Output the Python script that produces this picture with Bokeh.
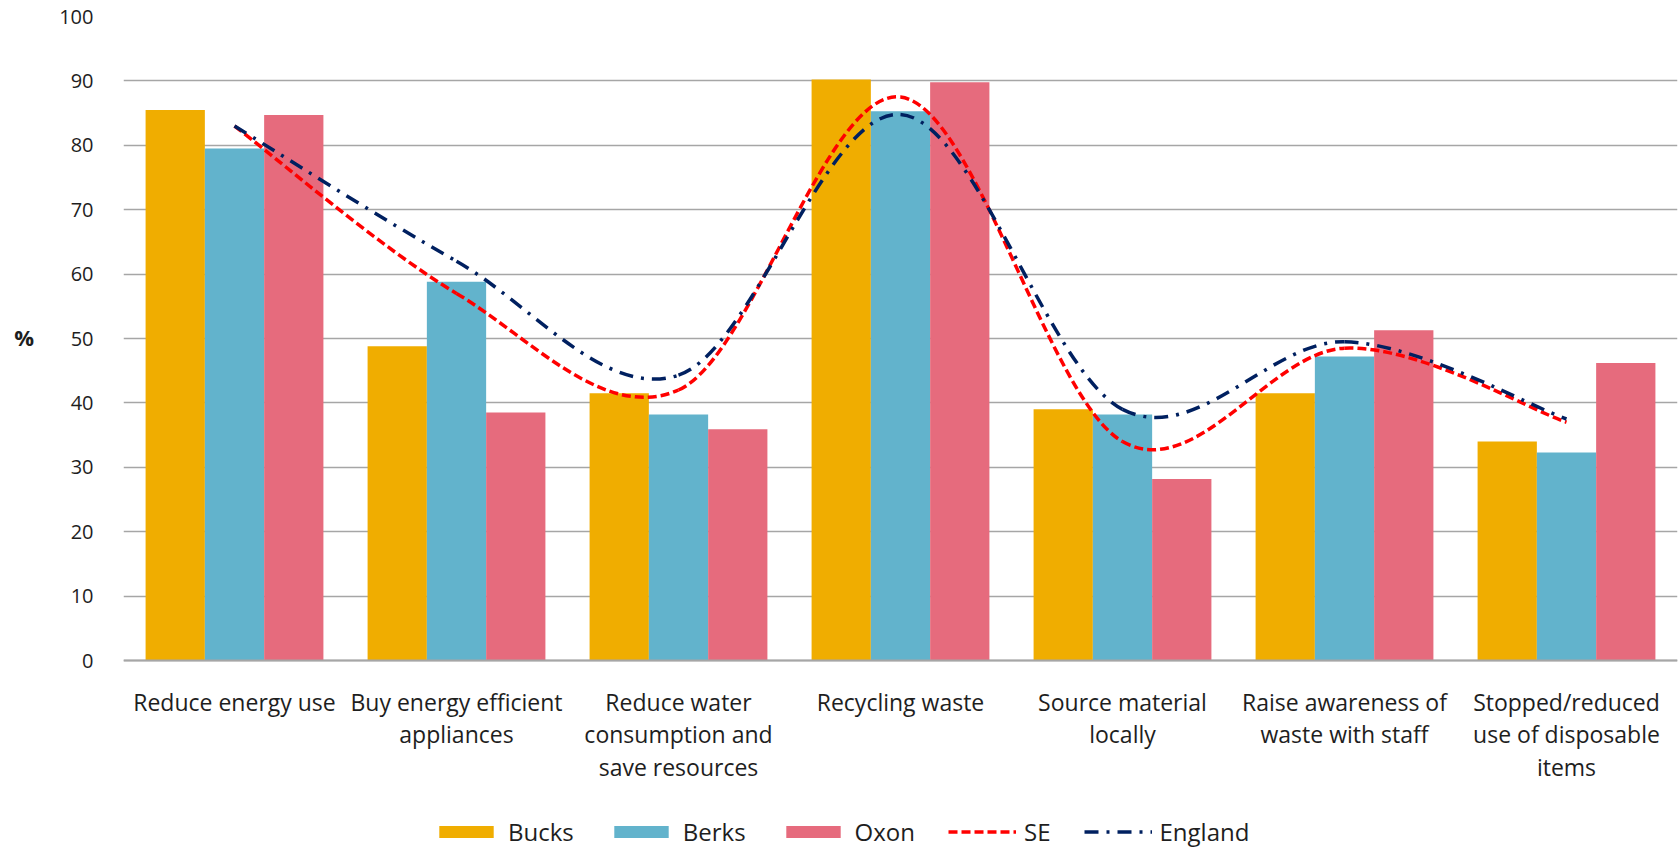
from bokeh.plotting import figure
from bokeh.models import (ColumnDataSource, FixedTicker, Legend, LegendItem, Range1d)
from bokeh.transform import dodge
from bokeh.embed import file_html
from bokeh.resources import INLINE

# ---------------- data ----------------
categories = [
    "Reduce energy use",
    "Buy energy efficient\nappliances",
    "Reduce water\nconsumption and\nsave resources",
    "Recycling waste",
    "Source material\nlocally",
    "Raise awareness of\nwaste with staff",
    "Stopped/reduced\nuse of disposable\nitems",
]
bucks = [85.5, 48.8, 41.5, 90.2, 39.0, 41.5, 34.0]
berks = [79.5, 58.8, 38.2, 85.3, 38.2, 47.2, 32.3]
oxon = [84.7, 38.5, 35.9, 89.8, 28.2, 51.3, 46.2]
se = [83.0, 57.0, 42.0, 87.5, 34.0, 48.5, 37.0]
england = [83.0, 62.0, 44.3, 84.8, 39.0, 49.5, 37.5]
y_ticks = [0, 10, 20, 30, 40, 50, 60, 70, 80, 90, 100]

# ---------------- styles / layout ----------------
FONT = "Open Sans"
C_BUCKS = "#F0AD00"
C_BERKS = "#62B3CC"
C_OXON = "#E66B7D"
C_SE = "#FF0000"
C_ENG = "#002060"
GRID = "#A6A6A6"
TEXT = "#1E1E1E"

W, H = 1679, 849
TOP, LEFT = 16, 123
AXIS_Y = 660          # pixel row of the value 0
n = len(categories)
xs = list(range(n))
bw = 0.267
px_per_unit = (AXIS_Y - TOP) / 100.0
y_min = -(H - AXIS_Y) / px_per_unit   # room under the axis for labels + legend

p = figure(width=W, height=H, output_backend="svg", toolbar_location=None,
           x_range=Range1d(-0.5, n - 0.5), y_range=Range1d(y_min, 100),
           min_border_left=LEFT, min_border_right=2, min_border_top=TOP,
           min_border_bottom=0)
p.outline_line_color = None
p.background_fill_color = "white"

src = ColumnDataSource(dict(x=xs, bucks=bucks, berks=berks, oxon=oxon))
r_bucks = p.vbar(x=dodge("x", -bw, range=p.x_range), top="bucks", width=bw, source=src,
                 fill_color=C_BUCKS, line_color=None)
r_berks = p.vbar(x=dodge("x", 0.0, range=p.x_range), top="berks", width=bw, source=src,
                 fill_color=C_BERKS, line_color=None)
r_oxon = p.vbar(x=dodge("x", bw, range=p.x_range), top="oxon", width=bw, source=src,
                fill_color=C_OXON, line_color=None)


def smooth_segments(ys):
    """Bezier segments (Catmull-Rom style control points) through the data points."""
    x0, y0, x1, y1, cx0, cy0, cx1, cy1 = [], [], [], [], [], [], [], []
    m = len(ys)
    for i in range(m - 1):
        pm = i - 1 if i > 0 else i
        pn = i + 2 if i + 2 < m else i + 1
        x0.append(xs[i]); y0.append(ys[i])
        x1.append(xs[i + 1]); y1.append(ys[i + 1])
        cx0.append(xs[i] + (xs[i + 1] - xs[pm]) / 6.0)
        cy0.append(ys[i] + (ys[i + 1] - ys[pm]) / 6.0)
        cx1.append(xs[i + 1] - (xs[pn] - xs[i]) / 6.0)
        cy1.append(ys[i + 1] - (ys[pn] - ys[i]) / 6.0)
    return dict(x0=x0, y0=y0, x1=x1, y1=y1, cx0=cx0, cy0=cy0, cx1=cx1, cy1=cy1)


SE_DASH = "9 4"
ENG_DASH = "14 8 3 8"
LW = 3.5
r_se = p.bezier(x0="x0", y0="y0", x1="x1", y1="y1", cx0="cx0", cy0="cy0", cx1="cx1", cy1="cy1",
                source=ColumnDataSource(smooth_segments(se)), line_color=C_SE, line_width=LW,
                line_dash=SE_DASH)
r_eng = p.bezier(x0="x0", y0="y0", x1="x1", y1="y1", cx0="cx0", cy0="cy0", cx1="cx1", cy1="cy1",
                 source=ColumnDataSource(smooth_segments(england)), line_color=C_ENG,
                 line_width=LW, line_dash=ENG_DASH)

# ---------------- axes / grid ----------------
p.xgrid.grid_line_color = None
p.ygrid.grid_line_color = GRID
p.ygrid.grid_line_width = 1.5
p.yaxis.ticker = FixedTicker(ticks=y_ticks)
p.yaxis.bounds = (0, 100)
p.yaxis.axis_line_color = None
p.yaxis.major_tick_line_color = None
p.yaxis.minor_tick_line_color = None
p.yaxis.major_label_text_font = FONT
p.yaxis.major_label_text_font_size = "20px"
p.yaxis.major_label_text_color = TEXT
p.yaxis.major_label_standoff = 24
# the "%" sits on the first line; blank lines below lift it to the middle of 0-100
p.yaxis.axis_label = "%\n \n \n \n \n \n "
p.yaxis.axis_label_text_font = FONT
p.yaxis.axis_label_text_font_size = "22px"
p.yaxis.axis_label_text_font_style = "bold"
p.yaxis.axis_label_text_color = TEXT
p.yaxis.axis_label_text_line_height = 1.07
p.yaxis.axis_label_standoff = 22
try:
    p.yaxis[0].axis_label_orientation = "horizontal"
except Exception:
    pass

p.xaxis.fixed_location = 0
p.xaxis.ticker = FixedTicker(ticks=xs)
p.xaxis.major_label_overrides = {i: c for i, c in enumerate(categories)}
p.xaxis.axis_line_color = GRID
p.xaxis.axis_line_width = 2
p.xaxis.major_tick_line_color = None
p.xaxis.minor_tick_line_color = None
p.xaxis.major_label_text_font = FONT
p.xaxis.major_label_text_font_size = "23px"
p.xaxis.major_label_text_color = TEXT
p.xaxis.major_label_standoff = 19
p.xaxis.major_label_text_line_height = 1.02

legend = Legend(items=[
    LegendItem(label="Bucks", renderers=[r_bucks]),
    LegendItem(label="Berks", renderers=[r_berks]),
    LegendItem(label="Oxon", renderers=[r_oxon]),
    LegendItem(label="SE", renderers=[r_se]),
    LegendItem(label="England", renderers=[r_eng]),
], orientation="horizontal", location=(309, 1))
legend.padding = 0
legend.margin = 0
legend.spacing = 33
legend.glyph_width = 68
legend.glyph_height = 15
legend.label_standoff = 8
legend.label_text_font = FONT
legend.label_text_font_size = "24px"
legend.label_text_color = TEXT
legend.border_line_color = None
legend.background_fill_alpha = 0
p.add_layout(legend, "center")

open("out.html", "w").write(file_html(p, INLINE))
